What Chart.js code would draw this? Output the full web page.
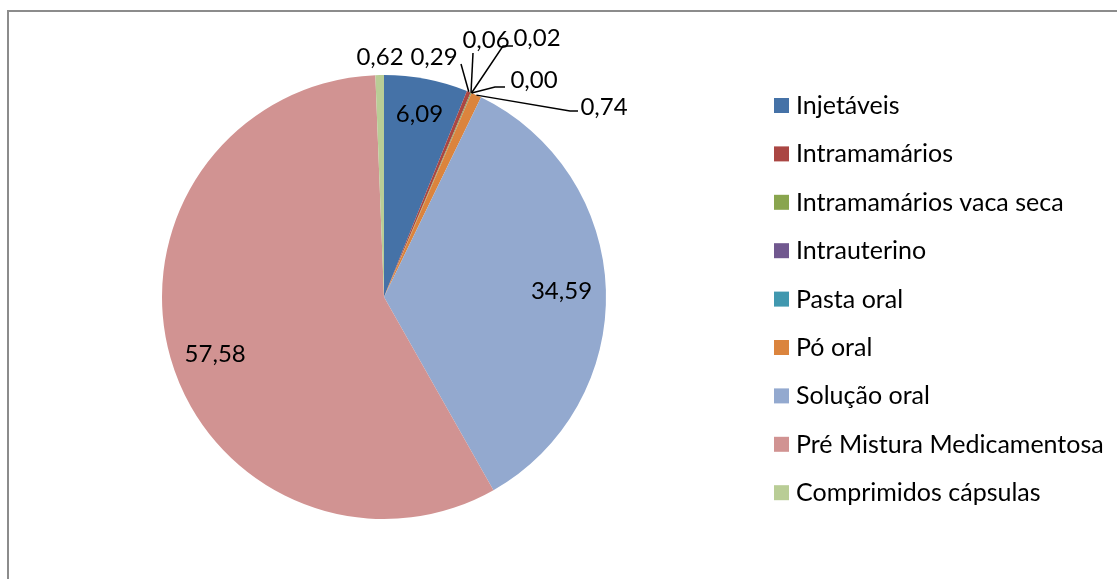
<!DOCTYPE html>
<html><head><meta charset="utf-8">
<script src="https://cdn.jsdelivr.net/npm/chart.js@4"></script>
<style>html,body{margin:0;padding:0;background:#fff;}#wrap{position:relative;width:1117px;height:579px;}</style>
</head><body><div id="wrap"><canvas id="c" width="1117" height="579"></canvas></div>
<script>
const categories = ["Injetáveis","Intramamários","Intramamários vaca seca","Intrauterino","Pasta oral","Pó oral","Solução oral","Pré Mistura Medicamentosa","Comprimidos cápsulas"];
const values = [6.09, 0.29, 0.06, 0.02, 0.00, 0.74, 34.59, 57.58, 0.62];
const colors = ["#4572A7","#AA4643","#89A54E","#71588F","#4198AF","#DB843D","#93A9CF","#D19392","#B9CD96"];
// label layout: 'inside' = at fraction of radius (+ small nudge); otherwise text centre offset from pie centre + optional elbow
const labelLayout = [
  {inside:0.84, nudge:[0,0]},
  {text:[50,-240], elbow:null, end:[77,-233]},
  {text:[102,-257], elbow:null, end:[89,-244]},
  {text:[153,-259], elbow:[119,-251], end:[129,-251]},
  {text:[150,-217], elbow:[111,-210], end:[121,-210]},
  {text:[220,-190], elbow:[186,-186], end:[194,-186]},
  {inside:0.8, nudge:[0,0]},
  {inside:0.8, nudge:[2,9]},
  {text:[-4,-240], noLine:true}
];
const FONT = "Lato, 'Liberation Sans', sans-serif";
const fmt = v => v.toFixed(2).replace('.', ',');

const deco = {
  id:'deco',
  beforeDraw(chart){
    const ctx = chart.ctx;
    ctx.save();
    ctx.strokeStyle = '#8c8c8c'; ctx.lineWidth = 2;
    ctx.strokeRect(8, 11, 2000, 2000);
    ctx.restore();
  },
  afterDraw(chart){
    const ctx = chart.ctx;
    const meta = chart.getDatasetMeta(0);
    ctx.save();
    ctx.font = "24px " + FONT;
    ctx.fillStyle = '#000';
    ctx.strokeStyle = '#000';
    ctx.lineWidth = 1.5;
    meta.data.forEach((arc, i) => {
      const p = arc.getProps(['x','y','startAngle','endAngle','outerRadius'], true);
      const mid = (p.startAngle + p.endAngle) / 2;
      const L = labelLayout[i];
      const txt = fmt(values[i]);
      ctx.textAlign = 'center';
      ctx.textBaseline = 'middle';
      if (L.inside) {
        const r = p.outerRadius * L.inside;
        ctx.fillText(txt, p.x + Math.cos(mid)*r + L.nudge[0], p.y + Math.sin(mid)*r + L.nudge[1]);
      } else {
        if (!L.noLine) {
          const sx = p.x + Math.cos(mid)*p.outerRadius;
          const sy = p.y + Math.sin(mid)*p.outerRadius;
          ctx.beginPath();
          ctx.moveTo(sx, sy);
          if (L.elbow) ctx.lineTo(p.x + L.elbow[0], p.y + L.elbow[1]);
          ctx.lineTo(p.x + L.end[0], p.y + L.end[1]);
          ctx.stroke();
        }
        ctx.fillText(txt, p.x + L.text[0], p.y + L.text[1]);
      }
    });
    // legend
    ctx.font = "25px " + FONT;
    ctx.textAlign = 'left';
    ctx.textBaseline = 'alphabetic';
    categories.forEach((c, i) => {
      const cy = 105.5 + 48.4 * i;
      ctx.fillStyle = colors[i];
      ctx.fillRect(774, cy - 7.5, 15, 15);
      ctx.fillStyle = '#000';
      ctx.fillText(c, 796, cy + 8.5);
    });
    ctx.restore();
  }
};

new Chart(document.getElementById('c'), {
  type: 'pie',
  data: { labels: categories, datasets: [{ data: values, backgroundColor: colors, borderWidth: 0 }] },
  options: {
    responsive: false,
    animation: false,
    layout: { padding: { left: 162, right: 511, top: 75, bottom: 60 } },
    plugins: { legend: { display: false }, tooltip: { enabled: false } }
  },
  plugins: [deco]
});
</script></body></html>
